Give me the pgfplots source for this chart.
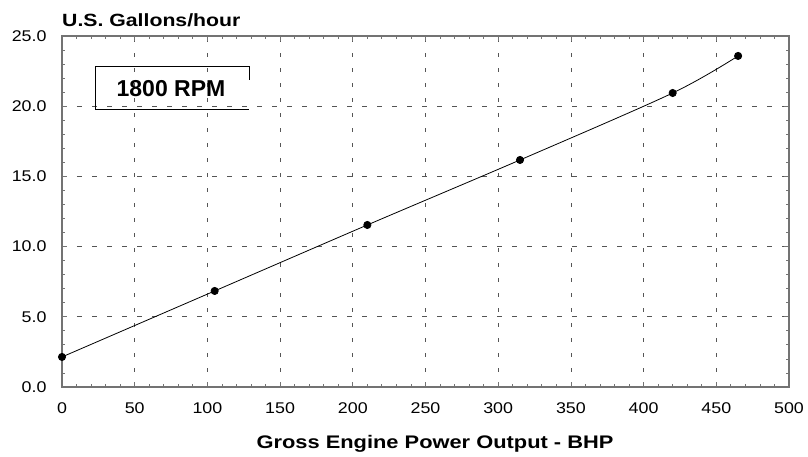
\documentclass[border=0pt]{standalone}
\usepackage{fontspec}
\setmainfont{Liberation Sans}
\newfontfamily\wideA[FakeStretch=1.2]{Liberation Sans}
\newfontfamily\wideB[FakeStretch=1.15]{Liberation Sans}
\usepackage{pgfplots}
\pgfplotsset{compat=1.18}
\definecolor{axgray}{RGB}{115,115,115}
\definecolor{gridgray}{RGB}{85,85,85}
\begin{document}
\begin{tikzpicture}
\path[use as bounding box] (0,0) rectangle (808pt,457pt);
\begin{axis}[
  at={(62pt,70pt)}, anchor=south west,
  scale only axis, width=727pt, height=351pt,
  xmin=0, xmax=500, ymin=0, ymax=25,
  xtick={0,50,...,500}, ytick={0,5,...,25},
  minor x tick num=4, minor y tick num=4,
  tick align=inside,
  major tick length=5pt, minor tick length=3pt,
  every tick/.style={axgray, line width=0.8pt},
  axis line style={axgray, line width=1.3pt},
  grid=major,
  x grid style={gridgray, line width=0.7pt, dash pattern=on 4pt off 11pt},
  y grid style={gridgray, line width=0.7pt, dash pattern=on 5pt off 10pt},
  /pgf/number format/assume math mode=true,
  ticklabel style={font=\wideB\fontsize{15.5}{17}\selectfont},
  xticklabel style={yshift=-12pt},
  yticklabel style={xshift=-12pt, /pgf/number format/.cd, fixed, fixed zerofill, precision=1},
  clip=false,
]
\addplot[black, line width=0.8pt, smooth, mark=*, mark size=3.6pt, mark options={fill=black}]
  coordinates {(0,2.14) (105,6.84) (210,11.54) (315,16.17) (420,20.94) (465,23.58)};
\end{axis}
\node[anchor=base west, font=\wideA\bfseries\fontsize{17.7}{19}\selectfont, inner sep=0pt] at (62pt,430pt) {U.S. Gallons/hour};
\node[anchor=base, font=\wideA\bfseries\fontsize{18.2}{20}\selectfont, inner sep=0pt] at (435pt,8pt) {Gross Engine Power Output - BHP};
\draw[black, line width=0.9pt] (249pt,377pt) -- (249pt,390.3pt) -- (95.7pt,390.3pt) -- (95.7pt,348pt) -- (249pt,348pt);
\node[anchor=base, font=\bfseries\fontsize{23}{25}\selectfont, inner sep=0pt] at (171pt,360pt) {1800 RPM};
\end{tikzpicture}
\end{document}
